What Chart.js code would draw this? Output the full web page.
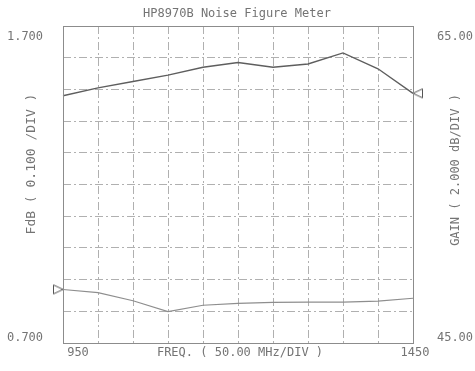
<!DOCTYPE html>
<html>
<head>
<meta charset="utf-8">
<script src="https://cdn.jsdelivr.net/npm/chart.js@4/dist/chart.umd.min.js"></script>
<style>
  html, body { margin: 0; padding: 0; background: #fff; }
  #wrap { width: 475px; height: 371px; }
</style>
</head>
<body>
<div id="wrap"><canvas id="nfChart"></canvas></div>
<script>
// Частоты, МГц (50 МГц на деление)
const freqs = [950, 1000, 1050, 1100, 1150, 1200, 1250, 1300, 1350, 1400, 1450];
// Усиление, дБ (правая шкала)
const gain = [60.6, 61.1, 61.5, 61.9, 62.4, 62.7, 62.4, 62.6, 63.3, 62.3, 60.75];
// Коэффициент шума, дБ (левая шкала)
const noiseFig = [0.869, 0.859, 0.833, 0.799, 0.819, 0.825, 0.828, 0.829, 0.829, 0.832, 0.841];
// Подписи шкал
const nfTicks = ['0.700', '1.700'];
const gainTicks = ['45.00', '65.00'];
const freqTicks = ['950', '1450'];

const textColor = '#747474';
const gridColor = '#b0b0b0';

// маркер-треугольник, остриё в центре холста
function makeTriangle(pointRight) {
    const c = document.createElement('canvas');
    c.width = 30; c.height = 14;
    const g = c.getContext('2d');
    g.strokeStyle = '#555';
    g.lineWidth = 1;
    g.beginPath();
    if (pointRight) {
        g.moveTo(15, 7); g.lineTo(5.5, 2.5); g.lineTo(5.5, 11.5);
    } else {
        g.moveTo(15, 7); g.lineTo(24.5, 2.5); g.lineTo(24.5, 11.5);
    }
    g.closePath();
    g.stroke();
    return c;
}
const triRight = makeTriangle(true);
const triLeft = makeTriangle(false);

// рамка и подписи в стиле плоттера
const plotterText = {
    id: 'plotterText',
    afterDraw(chart) {
        const ctx = chart.ctx;
        const a = chart.chartArea;
        const x = chart.scales.x;
        ctx.save();
        ctx.strokeStyle = '#8c8c8c';
        ctx.lineWidth = 1;
        ctx.strokeRect(a.left + 0.5, a.top + 0.5, a.right - a.left, a.bottom - a.top);

        ctx.fillStyle = textColor;
        ctx.font = '12px "DejaVu Sans Mono"';
        ctx.textAlign = 'center';
        ctx.textBaseline = 'middle';
        ctx.fillText('HP8970B Noise Figure Meter', 237, 14);

        ctx.fillText(nfTicks[1], 25, a.top + 11);
        ctx.fillText(nfTicks[0], 25, a.bottom - 5);
        ctx.fillText(gainTicks[1], 455, a.top + 11);
        ctx.fillText(gainTicks[0], 455, a.bottom - 5);
        ctx.fillText(freqTicks[0], x.getPixelForValue(950) + 15, a.bottom + 10);
        ctx.fillText(freqTicks[1], x.getPixelForValue(1450) + 2, a.bottom + 10);
        ctx.fillText('FREQ. ( 50.00 MHz/DIV )', 240, a.bottom + 10);

        ctx.save();
        ctx.font = '13px "DejaVu Sans Mono"';
        ctx.translate(32, 164);
        ctx.rotate(-Math.PI / 2);
        ctx.fillText('FdB ( 0.100 /DIV )', 0, 0);
        ctx.restore();

        ctx.save();
        ctx.translate(456, 170);
        ctx.rotate(-Math.PI / 2);
        ctx.fillText('GAIN ( 2.000 dB/DIV )', 0, 0);
        ctx.restore();
        ctx.restore();
    }
};

document.addEventListener('DOMContentLoaded', function() {
    const nfChart = new Chart(document.getElementById('nfChart'), {
        type: 'line',
        data: {
            labels: freqs,
            datasets: [
                {
                    label: 'GAIN',
                    data: freqs.map((f, i) => ({ x: f, y: gain[i] })),
                    yAxisID: 'y2',
                    borderColor: '#5e5e5e',
                    borderWidth: 1.4,
                    tension: 0,
                    clip: false,
                    pointStyle: triLeft,
                    pointRadius: ctx => ctx.dataIndex === freqs.length - 1 ? 5 : 0
                },
                {
                    label: 'FdB',
                    data: freqs.map((f, i) => ({ x: f, y: noiseFig[i] })),
                    yAxisID: 'y',
                    borderColor: '#8e8e8e',
                    borderWidth: 1.1,
                    tension: 0,
                    clip: false,
                    pointStyle: triRight,
                    pointRadius: ctx => ctx.dataIndex === 0 ? 5 : 0
                }
            ]
        },
        options: {
            responsive: true,
            maintainAspectRatio: false,
            animation: false,
            layout: { padding: { left: 63, right: 62, top: 26, bottom: 28 } },
            plugins: {
                legend: { display: false },
                tooltip: { enabled: false }
            },
            scales: {
                x: {
                    type: 'linear',
                    min: 950,
                    max: 1450,
                    ticks: { display: false, stepSize: 50 },
                    grid: { color: gridColor, lineWidth: 1, drawTicks: false },
                    border: { display: false, dash: [8, 3, 2, 3] }
                },
                y: {
                    position: 'left',
                    min: 0.7,
                    max: 1.7,
                    ticks: { display: false, stepSize: 0.1 },
                    grid: { color: gridColor, lineWidth: 1, drawTicks: false },
                    border: { display: false, dash: [8, 3, 2, 3] }
                },
                y2: {
                    position: 'right',
                    min: 45,
                    max: 65,
                    display: false,
                    grid: { drawOnChartArea: false }
                }
            }
        },
        plugins: [plotterText]
    });
});
</script>
</body>
</html>
